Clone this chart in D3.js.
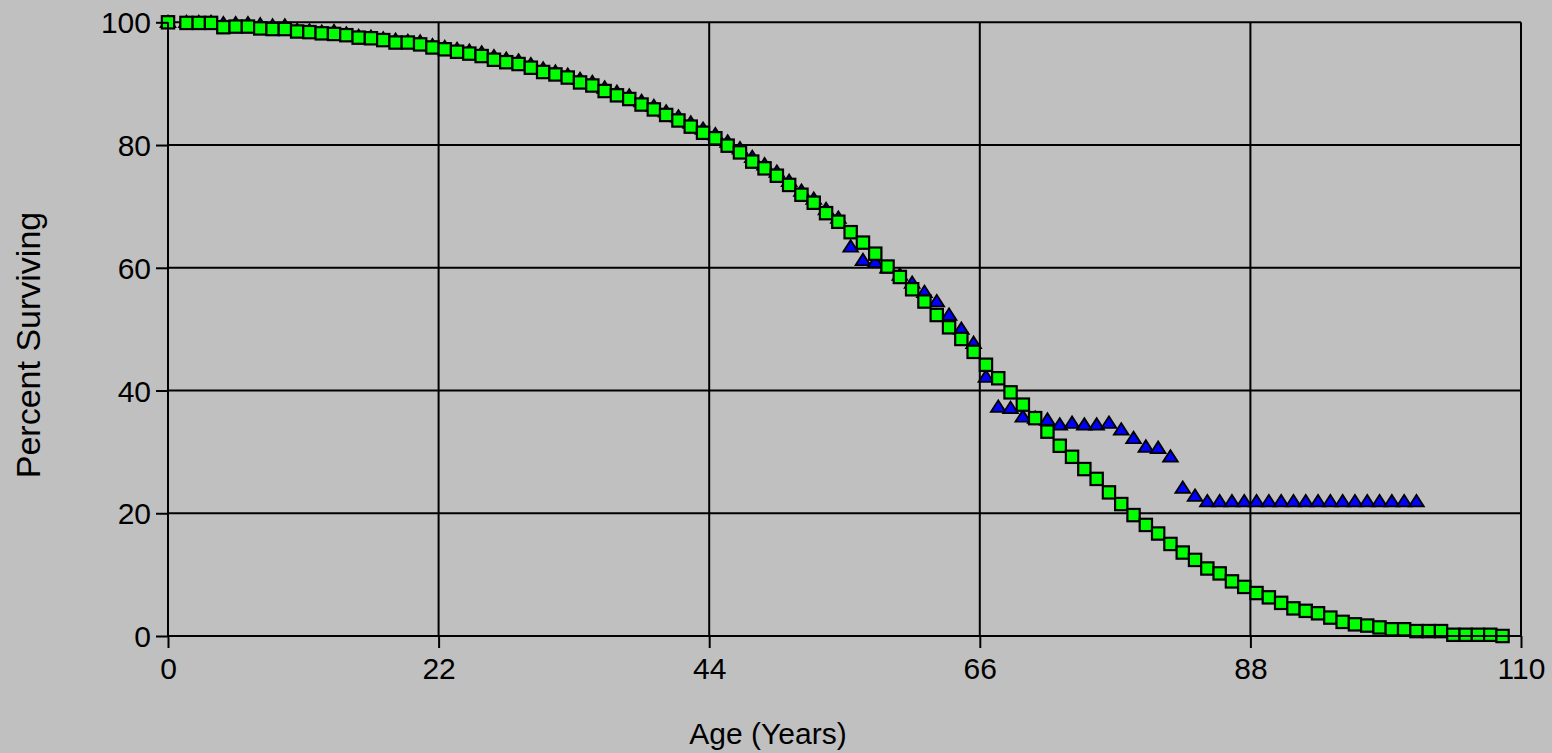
<!DOCTYPE html>
<html>
<head>
<meta charset="utf-8">
<script src="https://cdn.jsdelivr.net/npm/d3@7"></script>
<style>
  html, body { margin: 0; padding: 0; background: #c0c0c0; overflow: hidden; }
  svg { display: block; }
  text { font-family: "Liberation Sans", Arial, sans-serif; fill: #000; }
</style>
</head>
<body>
<svg id="chart" width="1552" height="753"></svg>
<script>
// ---- data ----
const ages = [0, 1.5, 2.5, 3.5, 4.5, 5.5, 6.5, 7.5, 8.5, 9.5,
  10.5, 11.5, 12.5, 13.5, 14.5, 15.5, 16.5, 17.5, 18.5, 19.5,
  20.5, 21.5, 22.5, 23.5, 24.5, 25.5, 26.5, 27.5, 28.5, 29.5,
  30.5, 31.5, 32.5, 33.5, 34.5, 35.5, 36.5, 37.5, 38.5, 39.5,
  40.5, 41.5, 42.5, 43.5, 44.5, 45.5, 46.5, 47.5, 48.5, 49.5,
  50.5, 51.5, 52.5, 53.5, 54.5, 55.5, 56.5, 57.5, 58.5, 59.5,
  60.5, 61.5, 62.5, 63.5, 64.5, 65.5, 66.5, 67.5, 68.5, 69.5,
  70.5, 71.5, 72.5, 73.5, 74.5, 75.5, 76.5, 77.5, 78.5, 79.5,
  80.5, 81.5, 82.5, 83.5, 84.5, 85.5, 86.5, 87.5, 88.5, 89.5,
  90.5, 91.5, 92.5, 93.5, 94.5, 95.5, 96.5, 97.5, 98.5, 99.5,
  100.5, 101.5, 102.5, 103.5, 104.5, 105.5, 106.5, 107.5, 108.5];

const squareValues = [100, 99.9, 99.9, 99.9, 99.2, 99.3, 99.3, 99.0, 98.9, 98.9,
  98.5, 98.4, 98.2, 98.1, 97.9, 97.5, 97.4, 97.1, 96.7, 96.7,
  96.4, 95.9, 95.6, 95.2, 94.9, 94.5, 93.9, 93.5, 93.2, 92.6,
  91.9, 91.5, 91.0, 90.2, 89.7, 88.8, 88.1, 87.5, 86.6, 85.8,
  84.9, 84.0, 83.0, 82.0, 81.1, 79.9, 78.8, 77.3, 76.2, 75.0,
  73.5, 71.9, 70.6, 68.9, 67.5, 65.8, 64.1, 62.3, 60.2, 58.5,
  56.5, 54.5, 52.3, 50.3, 48.4, 46.3, 44.2, 42.0, 39.7, 37.7,
  35.5, 33.3, 31.0, 29.2, 27.2, 25.6, 23.4, 21.5, 19.7, 18.1,
  16.7, 15.0, 13.6, 12.4, 11.0, 10.2, 8.9, 8.0, 7.0, 6.3,
  5.4, 4.5, 4.1, 3.7, 3.0, 2.3, 1.9, 1.7, 1.4, 1.1,
  1.1, 0.8, 0.8, 0.8, 0.2, 0.2, 0.2, 0.2, 0.0];

const triangleValues = [100, 100, 100, 100, 99.8, 99.8, 99.8, 99.6, 99.4, 99.4,
  98.7, 98.6, 98.4, 98.5, 98.1, 97.7, 97.6, 97.3, 97.1, 96.9,
  96.8, 96.2, 95.9, 95.6, 95.3, 95.0, 94.4, 94.0, 93.7, 93.1,
  92.4, 91.9, 91.4, 90.7, 90.2, 89.3, 88.6, 88.0, 87.1, 86.3,
  85.4, 84.6, 83.6, 82.6, 81.7, 80.5, 79.4, 78.0, 76.8, 75.6,
  74.1, 72.5, 71.2, 69.5, 68.1, 63.4, 61.2, 60.9, 60.0, 58.8,
  57.5, 56.0, 54.5, 52.3, 50.0, 47.7, 42.2, 37.3, 37.1, 35.7,
  35.5, 35.2, 34.4, 34.7, 34.4, 34.4, 34.7, 33.6, 32.2, 30.8,
  30.6, 29.2, 24.1, 22.8, 21.9, 21.9, 21.9, 21.9, 21.9, 21.9,
  21.9, 21.9, 21.9, 21.9, 21.9, 21.9, 21.9, 21.9, 21.9, 21.9,
  21.9, 21.9];

const xTicks = [0, 22, 44, 66, 88, 110];
const yTicks = [0, 20, 40, 60, 80, 100];
const xTitle = "Age (Years)";
const yTitle = "Percent Surviving";

(function () {
  // ---- layout ----
  const svg = d3.select("#chart");
  const pLeft = 168, pRight = 1521, pTop = 22.3, pBottom = 636;
  const x = d3.scaleLinear().domain([0, 110]).range([pLeft, pRight]);
  const y = d3.scaleLinear().domain([0, 100]).range([pBottom, pTop]);

  svg.append("rect").attr("width", 1552).attr("height", 753).attr("fill", "#c0c0c0");

  // gridlines
  const grid = svg.append("g");
  grid.selectAll("line.v").data(xTicks.filter(d => d !== 0)).join("line")
    .attr("class", "v")
    .attr("x1", d => x(d)).attr("x2", d => x(d))
    .attr("y1", pTop).attr("y2", pBottom)
    .attr("stroke", "#000").attr("stroke-width", 2);
  grid.selectAll("line.h").data(yTicks.filter(d => d !== 0)).join("line")
    .attr("class", "h")
    .attr("x1", pLeft).attr("x2", pRight)
    .attr("y1", d => y(d)).attr("y2", d => y(d))
    .attr("stroke", "#000").attr("stroke-width", 2);

  // triangles
  const triData = triangleValues.map((v, i) => ({ a: ages[i], v }));
  const triSym = d3.symbol().type(d3.symbolTriangle).size(85);
  svg.append("g").selectAll("path").data(triData).join("path")
    .attr("d", triSym)
    .attr("transform", d => `translate(${x(d.a)},${y(d.v) + 1}) scale(1.05,0.95)`)
    .attr("fill", "#0000ff").attr("stroke", "#000").attr("stroke-width", 1.8)
    .attr("stroke-linejoin", "miter");

  // squares
  const sqData = squareValues.map((v, i) => ({ a: ages[i], v }));
  const s = 12.3;
  svg.append("g").selectAll("rect").data(sqData).join("rect")
    .attr("x", d => x(d.a) - s / 2).attr("y", d => y(d.v) - s / 2)
    .attr("width", s).attr("height", s)
    .attr("fill", "#00ff00").attr("stroke", "#000").attr("stroke-width", 2.2);

  // axes (drawn on top of markers)
  const xAxis = d3.axisBottom(x).tickValues(xTicks).tickSize(12).tickPadding(10).tickFormat(d3.format("d"));
  const yAxis = d3.axisLeft(y).tickValues(yTicks).tickSize(12).tickPadding(5).tickFormat(d3.format("d"));

  const gx = svg.append("g").attr("transform", `translate(0,${pBottom})`).call(xAxis);
  const gy = svg.append("g").attr("transform", `translate(${pLeft},0)`).call(yAxis);

  [gx, gy].forEach(g => {
    g.select(".domain").remove();
    g.selectAll(".tick line").attr("stroke", "#000").attr("stroke-width", 2);
    g.selectAll(".tick text").attr("fill", "#000")
      .style("font-family", '"Liberation Sans", Arial, sans-serif')
      .style("font-size", "30px");
  });
  gx.selectAll(".tick text").attr("dy", "0.71em");
  gy.selectAll(".tick text").attr("dy", "0.35em");

  // axis lines
  svg.append("line").attr("x1", pLeft).attr("x2", pRight).attr("y1", pBottom).attr("y2", pBottom)
    .attr("stroke", "#000").attr("stroke-width", 2);
  svg.append("line").attr("x1", pLeft).attr("x2", pLeft).attr("y1", pTop).attr("y2", pBottom)
    .attr("stroke", "#000").attr("stroke-width", 2);

  // titles
  svg.append("text").attr("x", 768).attr("y", 744)
    .attr("text-anchor", "middle").style("font-size", "30px").text(xTitle);
  svg.append("text")
    .attr("transform", `translate(40,345) rotate(-90)`)
    .attr("text-anchor", "middle").style("font-size", "34px").text(yTitle);
})();
</script>
</body>
</html>
